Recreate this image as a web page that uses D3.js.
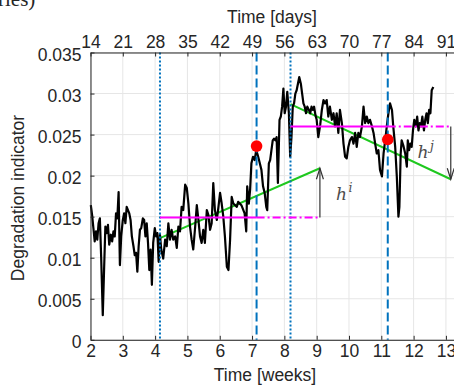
<!DOCTYPE html>
<html>
<head>
<meta charset="utf-8">
<script src="https://cdn.jsdelivr.net/npm/d3@7"></script>
<style>
  body { margin: 0; background: #fff; }
  svg { display: block; }
  text { font-family: "Liberation Sans", Arial, sans-serif; fill: #262626; }
</style>
</head>
<body>
<div id="chart"></div>
<script>
// measured series, time in weeks
var weeks = [
  2.01,2.05,2.09,2.13,2.17,2.21,2.25,2.29,2.33,2.38,
  2.42,2.46,2.50,2.54,2.58,2.63,2.67,2.71,2.75,2.79,
  2.83,2.87,2.91,2.95,3.00,3.04,3.08,3.12,3.16,3.20,
  3.24,3.28,3.33,3.37,3.41,3.45,3.49,3.53,3.57,3.62,
  3.66,3.70,3.74,3.78,3.82,3.86,3.90,3.94,3.99,4.03,
  4.07,4.11,4.15,4.19,4.25,4.31,4.36,4.41,4.46,4.51,
  4.56,4.62,4.67,4.72,4.77,4.82,4.87,4.93,4.98,5.03,
  5.08,5.13,5.18,5.24,5.29,5.34,5.39,5.44,5.49,5.54,
  5.60,5.65,5.70,5.75,5.80,5.85,5.91,5.96,6.01,6.06,
  6.11,6.16,6.22,6.27,6.32,6.37,6.42,6.53,6.57,6.67,
  6.77,6.82,6.85,6.90,6.94,6.98,7.03,7.08,7.13,7.19,
  7.24,7.29,7.34,7.39,7.44,7.47,7.52,7.56,7.60,7.64,
  7.68,7.72,7.76,7.80,7.85,7.89,7.93,7.97,8.01,8.05,
  8.09,8.14,8.18,8.22,8.26,8.30,8.34,8.38,8.42,8.46,
  8.51,8.55,8.59,8.63,8.67,8.71,8.76,8.80,8.84,8.88,
  8.92,8.96,9.00,9.05,9.11,9.16,9.21,9.26,9.31,9.36,
  9.41,9.47,9.52,9.57,9.62,9.67,9.72,9.78,9.83,9.88,
  9.93,9.98,10.03,10.09,10.14,10.19,10.24,10.29,10.34,10.40,
  10.45,10.50,10.55,10.60,10.65,10.71,10.76,10.81,10.86,10.91,
  10.96,11.02,11.07,11.12,11.17,11.22,11.27,11.33,11.37,11.43,
  11.48,11.53,11.56,11.60,11.63,11.68,11.74,11.79,11.82,11.86,
  11.90,11.94,11.98,12.02,12.07,12.11,12.15,12.19,12.23,12.27,
  12.32,12.36,12.40,12.44,12.48,12.52,12.56,12.61
];
var indicator = [
  0.0164,0.0152,0.0136,0.0120,0.0132,0.0122,0.0142,0.0148,0.0101,0.0030,
  0.0085,0.0138,0.0130,0.0140,0.0116,0.0128,0.0120,0.0132,0.0126,0.0154,
  0.0148,0.0180,0.0091,0.0126,0.0146,0.0154,0.0142,0.0162,0.0158,0.0154,
  0.0146,0.0126,0.0114,0.0103,0.0106,0.0083,0.0114,0.0134,0.0136,0.0148,
  0.0146,0.0126,0.0142,0.0118,0.0085,0.0110,0.0067,0.0118,0.0136,0.0126,
  0.0130,0.0095,0.0128,0.0110,0.0099,0.0122,0.0114,0.0142,0.0122,0.0134,
  0.0122,0.0126,0.0112,0.0138,0.0132,0.0162,0.0158,0.0189,0.0185,0.0166,
  0.0138,0.0122,0.0110,0.0138,0.0164,0.0146,0.0126,0.0118,0.0134,0.0118,
  0.0158,0.0152,0.0134,0.0142,0.0191,0.0158,0.0146,0.0162,0.0179,0.0166,
  0.0150,0.0126,0.0089,0.0085,0.0122,0.0174,0.0166,0.0162,0.0168,0.0164,
  0.0154,0.0132,0.0187,0.0166,0.0183,0.0215,0.0223,0.0219,0.0231,0.0223,
  0.0215,0.0207,0.0187,0.0179,0.0162,0.0158,0.0215,0.0219,0.0231,0.0243,
  0.0245,0.0243,0.0247,0.0191,0.0268,0.0272,0.0284,0.0306,0.0276,0.0284,
  0.0302,0.0276,0.0223,0.0247,0.0284,0.0288,0.0300,0.0304,0.0312,0.0320,
  0.0312,0.0300,0.0288,0.0284,0.0276,0.0284,0.0280,0.0276,0.0284,0.0280,
  0.0284,0.0274,0.0268,0.0247,0.0262,0.0280,0.0292,0.0288,0.0292,0.0272,
  0.0284,0.0268,0.0276,0.0260,0.0276,0.0252,0.0280,0.0264,0.0239,0.0223,
  0.0221,0.0235,0.0243,0.0247,0.0239,0.0252,0.0235,0.0252,0.0247,0.0260,
  0.0284,0.0264,0.0272,0.0264,0.0268,0.0260,0.0252,0.0239,0.0227,0.0231,
  0.0207,0.0199,0.0227,0.0243,0.0260,0.0276,0.0288,0.0280,0.0260,0.0235,
  0.0199,0.0150,0.0162,0.0227,0.0243,0.0237,0.0227,0.0211,0.0243,0.0231,
  0.0239,0.0235,0.0255,0.0268,0.0260,0.0272,0.0255,0.0264,0.0260,0.0272,
  0.0255,0.0268,0.0276,0.0264,0.0280,0.0276,0.0304,0.0308
];

// windows: reference start (dotted) and detection (dashed)
var refStart = [4.15, 8.19];
var detectAt = [7.14, 11.20];
var extendTo = [9.10, 13.15];
var refLevel = [0.0149, 0.0260];
var trendFrom = [0.01238, 0.0287];
var trendTo = [0.0209, 0.01956];
var alarmValue = [0.0236, 0.0244];
var hLabels = ["i", "j"];

var weekTicks = d3.range(2, 14);
var dayTicks = d3.range(14, 92, 7);
var yTicks = [0, 0.005, 0.01, 0.015, 0.02, 0.025, 0.03, 0.035];

var W = 454, H = 388;
var pL = 90.5, pT = 52.5, pB = 339.8, pR = 454;

var svg = d3.select("#chart").append("svg")
  .attr("width", W).attr("height", H);

var x = d3.scaleLinear().domain([2, 13.25]).range([pL, pR]);
var xd = d3.scaleLinear().domain([14, 13.25 * 7]).range([pL, pR]);
var y = d3.scaleLinear().domain([0, 0.035]).range([pB, pT]);

// clipped title of the panel above
svg.append("text")
  .attr("x", -2).attr("y", 6)
  .style("font-family", "'Liberation Serif', serif")
  .style("font-size", "21px")
  .text("ries)");

// grid
var grid = svg.append("g").attr("stroke", "#e6e6e6").attr("stroke-width", 1);
grid.selectAll(".gx").data(weekTicks).enter().append("line")
  .attr("x1", d => x(d)).attr("x2", d => x(d))
  .attr("y1", pT).attr("y2", pB);
grid.selectAll(".gy").data(yTicks).enter().append("line")
  .attr("x1", pL).attr("x2", pR)
  .attr("y1", d => y(d)).attr("y2", d => y(d));

// trend lines
svg.selectAll(".trend").data(refStart).enter().append("line")
  .attr("x1", d => x(d)).attr("x2", (d, i) => x(extendTo[i]))
  .attr("y1", (d, i) => y(trendFrom[i])).attr("y2", (d, i) => y(trendTo[i]))
  .attr("stroke", "#1ec81e").attr("stroke-width", 2);

// data
var line = d3.line().x(d => x(d[0])).y(d => y(d[1]));
svg.append("path")
  .datum(d3.zip(weeks, indicator))
  .attr("d", line)
  .attr("fill", "none")
  .attr("stroke", "#000")
  .attr("stroke-width", 2.2)
  .attr("stroke-linejoin", "round");

// vertical markers
svg.selectAll(".vdot").data(refStart).enter().append("line")
  .attr("x1", d => x(d)).attr("x2", d => x(d))
  .attr("y1", pT).attr("y2", pB)
  .attr("stroke", "#0072BD").attr("stroke-width", 2)
  .attr("stroke-dasharray", "2,2");
svg.selectAll(".vdash").data(detectAt).enter().append("line")
  .attr("x1", d => x(d)).attr("x2", d => x(d))
  .attr("y1", pT).attr("y2", pB)
  .attr("stroke", "#0072BD").attr("stroke-width", 2)
  .attr("stroke-dasharray", "9,4");

// reference levels
svg.selectAll(".lvl").data(refLevel).enter().append("line")
  .attr("x1", (d, i) => x(refStart[i])).attr("x2", (d, i) => x(detectAt[i]))
  .attr("y1", d => y(d)).attr("y2", d => y(d))
  .attr("stroke", "#ff00ff").attr("stroke-width", 2);
svg.selectAll(".lvlx").data(refLevel).enter().append("line")
  .attr("x1", (d, i) => x(detectAt[i])).attr("x2", (d, i) => x(extendTo[i]))
  .attr("y1", d => y(d)).attr("y2", d => y(d))
  .attr("stroke", "#ff00ff").attr("stroke-width", 2)
  .attr("stroke-dasharray", "8,3,2,3");

// alarms
svg.selectAll(".alarm").data(detectAt).enter().append("circle")
  .attr("cx", d => x(d)).attr("cy", (d, i) => y(alarmValue[i]))
  .attr("r", 5.8).attr("fill", "#ff0000");

// arrows h^i, h^j
var arr = svg.append("g").attr("stroke", "#333").attr("stroke-width", 1.2).attr("fill", "none");
extendTo.forEach(function (wk, i) {
  var xa = x(wk), y0 = y(refLevel[i]), y1 = y(trendTo[i]);
  var dir = y1 < y0 ? 1 : -1;
  arr.append("line").attr("x1", xa).attr("x2", xa).attr("y1", y0).attr("y2", y1);
  arr.append("path").attr("d",
    "M" + (xa - 3.5) + "," + (y1 + dir * 11) + "L" + xa + "," + y1 + "L" + (xa + 3.5) + "," + (y1 + dir * 11));
});
var hpos = [[336, 200], [417.5, 158]];
hLabels.forEach(function (s, i) {
  var t = svg.append("text")
    .attr("x", hpos[i][0]).attr("y", hpos[i][1])
    .style("font-family", "'DejaVu Serif', serif")
    .style("font-style", "italic")
    .style("font-size", "17px")
    .style("fill", "#4d4d4d");
  t.append("tspan").text("h");
  t.append("tspan").attr("dy", -8).attr("dx", 1.5).style("font-size", "12.5px").text(s);
});

// axes
function styleAxis(g) {
  g.selectAll("path.domain").attr("stroke", "#262626");
  g.selectAll(".tick line").attr("stroke", "#262626");
  g.selectAll("text").style("font-size", "17.5px").style("font-family", "'Liberation Sans', Arial, sans-serif").attr("fill", "#262626");
}

var gb = svg.append("g").attr("transform", "translate(0," + pB + ")")
  .call(d3.axisBottom(x).tickValues(weekTicks).tickSizeInner(-4).tickSizeOuter(0).tickPadding(5).tickFormat(d3.format("d")));
styleAxis(gb);

var gt = svg.append("g").attr("transform", "translate(0," + pT + ")")
  .call(d3.axisTop(xd).tickValues(dayTicks).tickSizeInner(-4).tickSizeOuter(0).tickPadding(5).tickFormat(d3.format("d")));
styleAxis(gt);

var gl = svg.append("g").attr("transform", "translate(" + pL + ",0)")
  .call(d3.axisLeft(y).tickValues(yTicks).tickSizeInner(-4).tickSizeOuter(0).tickPadding(9).tickFormat(d3.format("~g")));
styleAxis(gl);
gl.selectAll(".tick text").attr("dy", "0.45em");

svg.append("text")
  .attr("x", 265).attr("y", 381)
  .attr("text-anchor", "middle")
  .style("font-size", "17.5px")
  .text("Time [weeks]");
svg.append("text")
  .attr("x", 272).attr("y", 23)
  .attr("text-anchor", "middle")
  .style("font-size", "17.5px")
  .text("Time [days]");
svg.append("text")
  .attr("transform", "translate(24,198) rotate(-90)")
  .attr("text-anchor", "middle")
  .style("font-size", "17.5px")
  .text("Degradation indicator");
</script>
</body>
</html>
